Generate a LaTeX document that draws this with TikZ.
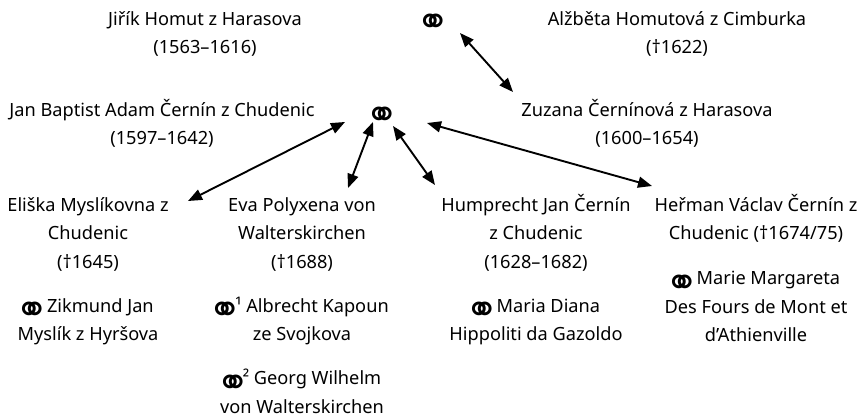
\documentclass[tikz,border=0pt]{standalone}
\usepackage{fontspec}
\setmainfont{Noto Sans}
\newfontfamily\znakfont{DejaVu Sans}
\usetikzlibrary{arrows.meta, positioning}

\newcommand{\manzel}{\makebox[20pt][l]{\hspace*{-6.5pt}\smash{\raisebox{-11.4pt}{\znakfont\fontsize{40}{28.5}\selectfont ⚭}}}}

\tikzset{
  osoba/.style={align=center, inner sep=0pt, anchor=north, font=\fontsize{18.2}{28.5}\selectfont},
  snatek/.style={inner sep=0pt, anchor=base, font=\fontsize{18.2}{28.5}\selectfont},
  pfeil/.style={{Triangle[length=14pt,width=11pt]}-{Triangle[length=14pt,width=11pt]}, line width=1.9pt},
}

\begin{document}
\begin{tikzpicture}[x=1pt, y=-1pt]
    \useasboundingbox (0,0) rectangle (865,420);

    % Rodiče
    \node[snatek] (m1) at (433,24) {\manzel};
    \node[osoba] (jirik) at (205,5) {\strut Jiřík Homut z Harasova\\(1563–1616)};
    \node[osoba] (alzbeta) at (677,5) {\strut Alžběta Homutová z Cimburka\\(†1622)};

    % Manželé
    \node[snatek] (m2) at (382,117) {\manzel};
    \node[osoba] (jan) at (162,96) {\strut Jan Baptist Adam Černín z Chudenic\\(1597–1642)};
    \node[osoba] (zuzana) at (647,96) {\strut Zuzana Černínová z Harasova\\(1600–1654)};

    % Děti
    \node[osoba] (eliska) at (88,191) {\strut Eliška Myslíkovna z\\Chudenic\\(†1645)\\[15.5pt]\manzel{} Zikmund Jan\\Myslík z Hyršova};
    \node[osoba] (eva) at (302,191) {\strut Eva Polyxena von\\Walterskirchen\\(†1688)\\[15.5pt]\manzel¹ Albrecht Kapoun\\ze Svojkova\\[15.5pt]\manzel² Georg Wilhelm\\von Walterskirchen};
    \node[osoba] (humprecht) at (536,191) {\strut Humprecht Jan Černín\\z Chudenic\\(1628–1682)\\[15.5pt]\manzel{} Maria Diana\\Hippoliti da Gazoldo};
    \node[osoba] (herman) at (756,191) {\strut Heřman Václav Černín z\\Chudenic (†1674/75)\\[16.5pt]\manzel{} Marie Margareta\\Des Fours de Mont et\\d’Athienville};

    % Šipky
    \draw[pfeil] ([shift={(27,9)}]m1.base) -- ([shift={(-134,-4)}]zuzana.north);
    \draw[pfeil] ([shift={(-37,5)}]m2.base) -- ([shift={(100,10)}]eliska.north);
    \draw[pfeil] ([shift={(-9,5)}]m2.base) -- ([shift={(46,-3)}]eva.north);
    \draw[pfeil] ([shift={(11,9)}]m2.base) -- ([shift={(-101,-6)}]humprecht.north);
    \draw[pfeil] ([shift={(45,6)}]m2.base) -- ([shift={(-104,-5)}]herman.north);
\end{tikzpicture}
\end{document}
